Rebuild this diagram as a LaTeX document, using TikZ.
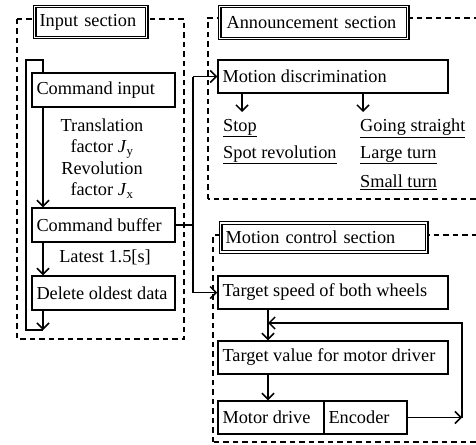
\documentclass[tikz,border=0pt]{standalone}
\usepackage{fontspec}
\setmainfont{Liberation Serif}
\usetikzlibrary{arrows.meta}
\newcommand{\boxtxt}[2]{\makebox[#1][l]{#2}}
\tikzset{
  bx/.style={draw, line width=1.5pt, inner xsep=4.5pt, inner ysep=0pt, minimum height=34pt, anchor=center},
  ttl/.style={draw, double, double distance=1.4pt, line width=1.2pt, fill=white, inner xsep=5pt, inner ysep=0pt, align=left, anchor=west},
  dsh/.style={line width=1.5pt, dash pattern=on 5.5pt off 4pt},
  ln/.style={line width=1.5pt},
  arr/.style={line width=1.5pt, -{Straight Barb[length=6pt,width=12pt]}},
  lbl/.style={inner sep=0pt, anchor=west}
}
\begin{document}
\begin{tikzpicture}[x=1pt, y=-1pt, font=\fontsize{18.3}{21.5}\selectfont]
\useasboundingbox (0,0) rectangle (476,444);
\clip (0,0) rectangle (476,444);
\fill[white] (0,0) rectangle (476,444);
% dashed section frames
\draw[dsh] (17,19) rectangle (184,339);
\draw[dsh] (208,199) -- (208,18) -- (485,18);
\draw[dsh] (485,199) -- (208,199);
\draw[dsh] (213,442) -- (213,235) -- (485,235);
\draw[dsh] (485,442) -- (213,442);
% titles
\node[ttl, minimum width=112pt, text width=102pt, minimum height=31pt] (tin) at (34,22) {Input section};
\node[ttl, minimum width=188pt, text width=178pt, minimum height=32pt] (tan) at (219,22.5) {\hspace*{2pt}Announcement section};
\node[ttl, minimum width=206pt, text width=196pt, minimum height=29pt] (tmc) at (220,237.5) {Motion control section};
% input section boxes
\node[bx] (cin) at (103.5,90) {\boxtxt{134pt}{Command input}};
\node[bx] (cbuf) at (103.5,225) {\boxtxt{134pt}{Command buffer}};
\node[bx] (del) at (103.5,293) {\boxtxt{134pt}{Delete oldest data}};
\node[align=center, inner sep=0pt] (fac) at (102,158.5) {Translation\\factor \textit{J}\textsubscript{y}\\Revolution\\factor \textit{J}\textsubscript{x}};
\node[inner sep=0pt] (lat) at (105,257) {Latest 1.5[s]};
% announcement
\node[bx, minimum height=33pt] (md) at (333,76.5) {\boxtxt{221pt}{Motion discrimination}};
\node[lbl] (stop) at (223,128) {\underline{Stop}};
\node[lbl] (spot) at (223,155) {\underline{Spot revolution}};
\node[lbl] (gs) at (360,128) {\underline{Going straight}};
\node[lbl] (lt) at (360,155) {\underline{Large turn}};
\node[lbl] (st) at (360,182) {\underline{Small turn}};
% motion control
\node[bx, minimum height=33pt] (ts) at (333,292.5) {\boxtxt{221pt}{Target speed of both wheels}};
\node[bx, minimum height=33pt] (tv) at (333,357.5) {\boxtxt{221pt}{Target value for motor driver}};
\node[bx, minimum height=33pt] (mdr) at (271,417.5) {\boxtxt{97pt}{Motor drive}};
\node[bx, minimum height=33pt] (enc) at (365.5,417.5) {\boxtxt{74pt}{Encoder}};
% coordinates
\coordinate (l1) at (43,330);
\coordinate (l2) at (26,330);
\coordinate (l3) at (26,60);
\coordinate (l4) at (43,60);
\coordinate (bx) at (193,0);
\coordinate (a1) at (242,112);
\coordinate (a2) at (363,112);
\coordinate (vx) at (268,0);
\coordinate (f1) at (462,417.5);
\coordinate (f2) at (462,323);
\coordinate (f3) at (268,323);
% connectors input
\draw[arr] (cin.south -| l1) -- (cbuf.north -| l1);
\draw[arr] (cbuf.south -| l1) -- (del.north -| l1);
\draw[arr] (del.south -| l1) -- (l1);
\draw[ln] (l1) -- (l2) -- (l3) -- (l4) -- (cin.north -| l4);
% to right sections
\draw[ln] (cbuf.east) -- (cbuf.east -| bx);
\draw[ln] (md.west -| bx) -- (ts.west -| bx);
\draw[arr] (md.west -| bx) -- (md.west);
\draw[arr] (ts.west -| bx) -- (ts.west);
% announcement arrows
\draw[arr] (md.south -| a1) -- (a1);
\draw[arr] (md.south -| a2) -- (a2);
% motion control arrows
\draw[arr] (ts.south -| vx) -- (tv.north -| vx);
\draw[arr] (tv.south -| vx) -- (mdr.north -| vx);
\draw[arr] (enc.east) -- (f1);
\draw[arr] (f1) -- (f2) -- (f3);
\end{tikzpicture}
\end{document}
